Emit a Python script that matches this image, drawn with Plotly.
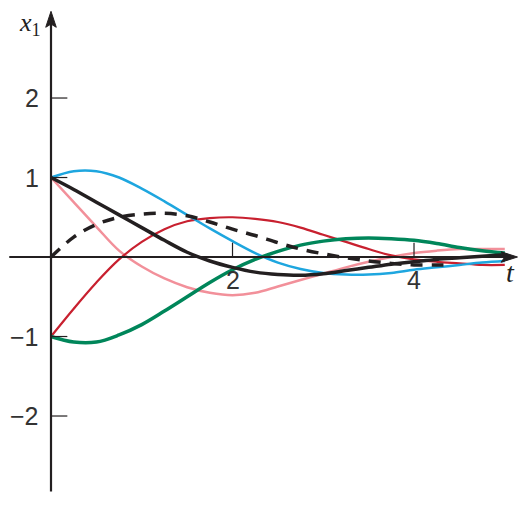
import plotly.graph_objects as go

t = [0, 0.25, 0.5, 0.75, 1.0, 1.25, 1.5, 1.75, 2.0, 2.25, 2.5, 2.75, 3.0,
     3.25, 3.5, 3.75, 4.0, 4.25, 4.5, 4.75, 5.0]

cyan = [1.0, 1.08, 1.08, 1.0, 0.86, 0.7, 0.53, 0.36, 0.2, 0.05, -0.07, -0.15, -0.2,
        -0.22, -0.22, -0.2, -0.16, -0.13, -0.1, -0.07, -0.05]
red = [-1.0, -0.65, -0.32, -0.03, 0.19, 0.35, 0.45, 0.49, 0.5, 0.48, 0.44, 0.37, 0.28,
       0.19, 0.1, 0.02, -0.03, -0.06, -0.08, -0.1, -0.1]
green = [-1.0, -1.07, -1.07, -0.98, -0.85, -0.68, -0.5, -0.32, -0.16, -0.03, 0.07, 0.15, 0.2,
         0.23, 0.24, 0.23, 0.21, 0.17, 0.12, 0.08, 0.05]
pink = [1.0, 0.69, 0.38, 0.08, -0.12, -0.27, -0.38, -0.45, -0.48, -0.45, -0.37, -0.29, -0.21,
        -0.13, -0.06, 0.0, 0.05, 0.08, 0.1, 0.1, 0.1]
black = [1.0, 0.85, 0.69, 0.53, 0.37, 0.21, 0.06, -0.05, -0.13, -0.19, -0.22, -0.23, -0.21,
         -0.17, -0.13, -0.09, -0.06, -0.03, -0.01, 0.01, 0.03]
t_dash = [0, 0.25, 0.5, 0.75, 1.0, 1.25, 1.5, 1.75, 2.0, 2.25, 2.5, 2.75, 3.0,
          3.25, 3.5, 3.75, 4.0, 4.25, 4.4]
dashed = [0.0, 0.25, 0.41, 0.5, 0.54, 0.55, 0.52, 0.44, 0.35, 0.27, 0.18, 0.1, 0.04,
          -0.01, -0.05, -0.08, -0.1, -0.1, -0.1]

x_ticks = [2, 4]
x_tick_labels = ["2", "4"]
y_ticks = [2, 1, -1, -2]
y_tick_labels = ["2", "1", "\u22121", "\u22122"]

INK = "#231f20"
fig = go.Figure()

def add(x, y, color, width, dash="solid"):
    fig.add_trace(go.Scatter(x=x, y=y, mode="lines",
                             line=dict(color=color, width=width, dash=dash, shape="spline", smoothing=1.0),
                             hoverinfo="skip", showlegend=False))

add(t, pink, "#f2909a", 2.5)
add(t, red, "#c8202f", 2.2)
add(t, cyan, "#1ea6df", 2.5)
add(t, green, "#00865a", 3.5)
add(t_dash, dashed, INK, 3.5, "12px,9px")
add(t, black, INK, 3.5)

shapes = []
shapes.append(dict(type="line", x0=-0.46, x1=5.0, y0=0, y1=0, line=dict(color=INK, width=2)))
shapes.append(dict(type="line", x0=0, x1=0, y0=-2.95, y1=2.95, line=dict(color=INK, width=2.2)))
# arrowheads (y-axis top, x-axis right)
shapes.append(dict(type="path", path="M 0 3.09 L -0.058 2.89 L 0 2.93 L 0.058 2.89 Z",
                   fillcolor=INK, line=dict(color=INK, width=1)))
shapes.append(dict(type="path", path="M 5.14 0 L 4.96 0.066 L 5.0 0 L 4.96 -0.066 Z",
                   fillcolor=INK, line=dict(color=INK, width=1)))
for v in x_ticks:
    shapes.append(dict(type="line", x0=v, x1=v, y0=0, y1=0.18, line=dict(color=INK, width=1.2)))
for v in y_ticks:
    shapes.append(dict(type="line", x0=0, x1=0.18, y0=v, y1=v, line=dict(color=INK, width=1.2)))

ann = []
tickfont = dict(family="Liberation Sans, Arial, sans-serif", size=25, color="#333333")
for v, s in zip(x_ticks, x_tick_labels):
    ann.append(dict(x=v, y=-0.29, text=s, showarrow=False, font=tickfont, xanchor="center", yanchor="middle"))
for v, s in zip(y_ticks, y_tick_labels):
    ann.append(dict(x=-0.11, y=v, text=s, showarrow=False, font=tickfont, xanchor="right", yanchor="middle"))
ann.append(dict(x=-0.23, y=2.93, text="<i>x</i><sub>1</sub>", showarrow=False,
                font=dict(family="Liberation Serif, Times New Roman, serif", size=26, color="#222222"),
                xanchor="center", yanchor="middle"))
ann.append(dict(x=5.06, y=-0.2, text="<i>t</i>", showarrow=False,
                font=dict(family="Liberation Serif, Times New Roman, serif", size=28, color="#222222"),
                xanchor="center", yanchor="middle"))

fig.update_layout(
    width=528, height=506,
    margin=dict(l=0, r=0, t=0, b=0),
    paper_bgcolor="white", plot_bgcolor="white",
    xaxis=dict(range=[-0.562, 5.256], visible=False, fixedrange=True),
    yaxis=dict(range=[-3.132, 3.233], visible=False, fixedrange=True),
    shapes=shapes, annotations=ann,
)

fig.write_html("out.html", config={"displayModeBar": False},
               post_script="document.body.style.margin='0';document.body.style.overflow='hidden';")
